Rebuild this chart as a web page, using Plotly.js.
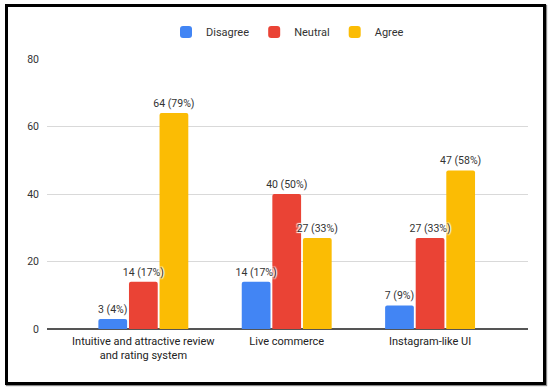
<!DOCTYPE html>
<html>
<head>
<meta charset="utf-8">
<script src="https://cdn.plot.ly/plotly-3.0.1.min.js"></script>
<style>
  html, body { margin: 0; padding: 0; background: #fff; }
  #wrap { position: relative; width: 550px; height: 391px; }
  #chart { width: 550px; height: 391px; }
  #frame { position: absolute; left: 5px; top: 4px; width: 535px; height: 375px;
           border: 3px solid #000; pointer-events: none; box-shadow: 1px 1px 1px #888; }
</style>
</head>
<body>
<div id="wrap"><div id="chart"></div><div id="frame"></div></div>
<script>
const categories = ["Intuitive and attractive review<br>and rating system", "Live commerce", "Instagram-like UI"];
const seriesNames = ["Disagree", "Neutral", "Agree"];
const disagree = [3, 14, 7];
const neutral = [14, 40, 27];
const agree = [64, 27, 47];
const disagreePct = [4, 17, 9];
const neutralPct = [17, 50, 33];
const agreePct = [79, 33, 58];
const yTicks = [0, 20, 40, 60, 80];
const colors = ["#4285F4", "#EA4335", "#FBBC04"];

const values = [disagree, neutral, agree];
const pcts = [disagreePct, neutralPct, agreePct];

const barTraces = values.map((v, i) => ({
  type: "bar",
  name: seriesNames[i],
  x: categories,
  y: v,
  offsetgroup: "g" + i,
  marker: { color: colors[i], cornerradius: 2 },
  hoverinfo: "none"
}));

const labelTraces = values.map((v, i) => ({
  type: "bar",
  name: seriesNames[i] + " labels",
  showlegend: false,
  x: categories,
  y: v,
  offsetgroup: "g" + i,
  text: v.map((n, j) => n + " (" + pcts[i][j] + "%)"),
  textposition: "outside",
  constraintext: "none",
  cliponaxis: false,
  textfont: { family: "Roboto, Arial, sans-serif", size: 10.5, color: "#333",
              shadow: "1px 1px 1px #fff, -1px -1px 1px #fff, 1px -1px 1px #fff, -1px 1px 1px #fff" },
  marker: { color: "rgba(0,0,0,0)" },
  hoverinfo: "none"
}));

const layout = {
  width: 550, height: 391,
  margin: { l: 47, r: 22, t: 59, b: 62 },
  paper_bgcolor: "#fff", plot_bgcolor: "#fff",
  font: { family: "Roboto, Arial, sans-serif", size: 11, color: "#333" },
  barmode: "group",
  bargap: 0.36,
  bargroupgap: 0.06,
  showlegend: true,
  legend: { orientation: "h", x: 0.5, xanchor: "center", y: 1.1, yanchor: "middle",
            font: { size: 11, color: "#333" }, traceorder: "normal", itemwidth: 30 },
  xaxis: { range: [-0.672, 2.683], showgrid: false, zeroline: false, showline: false,
           ticks: "", ticklabelstandoff: 4, tickfont: { size: 11, color: "#222" }, fixedrange: true },
  yaxis: { range: [0, 80], tickvals: yTicks, ticktext: yTicks.map(String),
           showgrid: true, gridcolor: "#d9d9d9", gridwidth: 1,
           zeroline: true, zerolinecolor: "#555", zerolinewidth: 1.2,
           ticks: "", ticklabelstandoff: 7, tickfont: { size: 10.5, color: "#333" }, fixedrange: true }
};

Plotly.newPlot("chart", barTraces.concat(labelTraces), layout, { displayModeBar: false, staticPlot: true });
</script>
</body>
</html>
